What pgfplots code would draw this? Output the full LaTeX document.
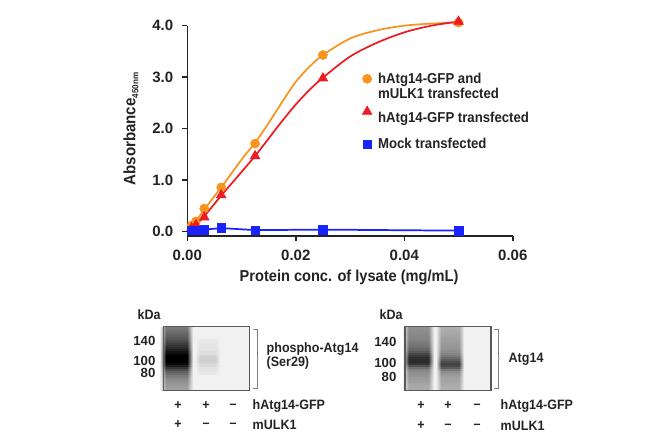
\documentclass[border=0pt]{standalone}
\usepackage{pgfplots}
\pgfplotsset{compat=1.18}
\usepackage{fontspec}
\setmainfont[FakeStretch=0.92]{Liberation Sans}
\newfontfamily\numfont{Liberation Sans}
\definecolor{cOr}{RGB}{247,148,29}
\definecolor{cRe}{RGB}{237,28,36}
\definecolor{cBl}{RGB}{25,35,255}
\definecolor{bgc}{RGB}{241,241,241}
\definecolor{txt}{RGB}{35,35,35}
\colorlet{lanec}{black}
\pgfdeclarehorizontalshading[lanec]{laneshade}{100bp}{color(0bp)=(bgc); color(25bp)=(bgc); color(34bp)=(lanec); color(66bp)=(lanec); color(75bp)=(bgc); color(100bp)=(bgc)}
\newcommand\lane[3]{\foreach \yy/\kk in {#3}{\colorlet{lanec}{black!\kk!bgc}\shade[shading=laneshade] (#1,\yy) rectangle (#2,\yy+2.3);}}
\begin{document}
\begin{tikzpicture}[font=\bfseries]
\path[use as bounding box] (0,0) rectangle (487.5pt,-328.5pt);
\begin{axis}[
 at={(140.475pt,-176.85pt)}, anchor=south west,
 scale only axis, width=244.1pt, height=157.6pt,
 xmin=0, xmax=0.06, ymin=-0.08, ymax=4.0,
 clip=false,
 axis x line*=bottom, axis y line*=left,
 axis line style={-, draw=txt, line width=1.1pt},
 tick style={draw=txt, line width=1.1pt},
 tick align=outside, major tick length=4pt,
 xtick={0,0.02,0.04,0.06}, ytick={0,1,2,3,4},
 scaled x ticks=false, scaled y ticks=false,
 /pgf/number format/assume math mode=true,
 x tick label style={yshift=-3pt, /pgf/number format/fixed, /pgf/number format/fixed zerofill, /pgf/number format/precision=2},
 y tick label style={xshift=-3pt, /pgf/number format/fixed, /pgf/number format/fixed zerofill, /pgf/number format/precision=1},
 ticklabel style={font=\numfont\bfseries\fontsize{11.25}{12}\selectfont, text=txt},
 xlabel={Protein conc. of lysate (mg/mL)},
 ylabel={Absorbance\raisebox{-2.2pt}{\fontsize{6.6}{7}\selectfont 450nm}},
 xlabel style={font=\bfseries\fontsize{11.9}{13}\selectfont, text=txt, at={(axis description cs:0.497,-0.196)}, anchor=center},
 ylabel style={font=\bfseries\fontsize{12.3}{13}\selectfont, text=txt, at={(axis description cs:-0.173,0.508)}, anchor=center},
 legend cell align=left,
 legend image code/.code={\draw[#1] plot coordinates {(0pt,0pt)}; \path (-4pt,0pt) (6pt,0pt);},
 legend style={draw=none, fill=none, at={(axis cs:0.03134,3.198)}, anchor=north west,
   font=\bfseries\fontsize{10.75}{11.25}\selectfont, text=txt, row sep=6pt},
]
\addplot[cOr, line width=1.3pt, smooth, forget plot] coordinates {
 (0,0.07) (0.00078,0.12) (0.0016,0.2) (0.003125,0.43) (0.00625,0.86) (0.01,1.4)
 (0.0125,1.73) (0.015,2.11) (0.0175,2.52) (0.02,2.91) (0.0225,3.2) (0.025,3.43)
 (0.03,3.75) (0.035,3.91) (0.04,4.0) (0.045,4.04) (0.05,4.06)};
\addplot[cRe, line width=1.3pt, smooth, forget plot] coordinates {
 (0,0.03) (0.00078,0.07) (0.0016,0.13) (0.003125,0.3) (0.00625,0.7) (0.01,1.16)
 (0.0125,1.47) (0.015,1.81) (0.0175,2.15) (0.02,2.47) (0.0225,2.75) (0.025,2.99)
 (0.03,3.4) (0.035,3.67) (0.04,3.87) (0.045,4.0) (0.05,4.08)};
\addplot[cBl, line width=1.3pt, forget plot] coordinates {
 (0,0.03) (0.00078,0.03) (0.0016,0.03) (0.003125,0.04) (0.00625,0.07) (0.0125,0.03)
 (0.025,0.04) (0.05,0.02)};
\addplot[only marks, mark=*, mark size=3.4pt, color=cOr, mark options={fill=cOr, draw=cOr}] coordinates {
 (0.00078,0.12) (0.0016,0.2) (0.003125,0.45) (0.00625,0.86) (0.0125,1.71) (0.025,3.43) (0.05,4.06)};
\addlegendentry{\begin{tabular}[t]{@{}l@{}}hAtg14-GFP and\\mULK1 transfected\end{tabular}}
\addplot[only marks, mark=triangle*, mark size=4.2pt, color=cRe, mark options={fill=cRe, draw=cRe}] coordinates {
 (0.00078,0.07) (0.0016,0.13) (0.003125,0.28) (0.00625,0.71) (0.0125,1.47) (0.025,2.98) (0.05,4.08)};
\addlegendentry{\rule{0pt}{18.3pt}hAtg14-GFP transfected}
\addplot[only marks, mark=square*, mark size=3.2pt, color=cBl, mark options={fill=cBl, draw=cBl}] coordinates {
 (0.00078,0.03) (0.0016,0.03) (0.003125,0.04) (0.00625,0.08) (0.0125,0.03) (0.025,0.04) (0.05,0.02)};
\addlegendentry{Mock transfected}
\end{axis}
\begin{scope}[x=0.75pt, y=-0.75pt, font=\bfseries\fontsize{10.2}{11}\selectfont, text=txt]
% left blot
\fill[bgc] (163.3,326.7) rectangle (249.3,390.7);
\lane{160}{193}{328/50,330/52,332/55,334/58,336/60,338/63,340/66,342/70,344/74,346/78,348/82,350/87,352/92,354/96,356/100,358/100,360/100,362/100,364/96,366/88,368/78,370/68,372/60,374/55,376/50,378/46,380/42,382/40,384/38,386/36,388/34}
\lane{195}{220}{340/4,344/5,348/6,352/8,356/12,358/14,360/15,362/14,364/10,368/6,372/4}
\draw[gray!70!black, line width=0.8pt] (163.3,326.7) rectangle (249.3,390.7);
\draw[gray, line width=0.7pt] (253,329) -- (257,329) -- (257,388) -- (253,388);
\draw[gray!50, line width=0.5pt] (257,358) -- (259,358);
\node[anchor=west] at (133,315) {kDa};
\begin{scope}[font=\numfont\bfseries\fontsize{9.9}{11}\selectfont, inner sep=1pt]
\node[anchor=east] at (157,341) {140};
\node[anchor=east] at (157,361) {100};
\node[anchor=east] at (157,373) {80};
\node[anchor=east] at (398,342) {140};
\node[anchor=east] at (398,363) {100};
\node[anchor=east] at (398,377) {80};
\end{scope}
\node[anchor=west, align=left] at (262,356) {phospho-Atg14\\(Ser29)};
\foreach \xx/\s in {178/+,206/+,233/--}{\node at (\xx,406) {\s};}
\foreach \xx/\s in {178/+,206/--,233/--}{\node at (\xx,425) {\s};}
\node[anchor=west] at (248,406) {hAtg14-GFP};
\node[anchor=west] at (248,425) {mULK1};
% right blot
\fill[bgc] (405,326.7) rectangle (491,390.7);
\lane{403}{434}{328/40,330/41,332/42,334/43,336/44,338/45,340/46,342/48,344/50,346/52,348/55,350/58,352/63,354/70,356/76,358/80,360/82,362/82,364/78,366/66,368/54,370/46,372/42,374/40,376/38,378/36,380/35,382/34,384/32,386/30,388/30}
\lane{436}{464}{328/28,330/29,332/30,334/31,336/32,338/33,340/34,342/35,344/36,346/37,348/38,350/40,352/42,354/45,356/50,358/56,360/62,362/68,364/72,366/70,368/62,370/50,372/42,374/38,376/35,378/33,380/32,382/31,384/30,386/29,388/28}
\draw[gray!70!black, line width=0.8pt] (405,326.7) rectangle (491,390.7);
\draw[gray, line width=0.7pt] (494,329) -- (498,329) -- (498,388) -- (494,388);
\draw[gray!50, line width=0.5pt] (498,358) -- (500,358);
\node[anchor=west] at (375,315) {kDa};
\node[anchor=west] at (504,359) {Atg14};
\foreach \xx/\s in {421/+,448/+,477/--}{\node at (\xx,406) {\s};}
\foreach \xx/\s in {421/+,448/--,477/--}{\node at (\xx,426) {\s};}
\node[anchor=west] at (496,406) {hAtg14-GFP};
\node[anchor=west] at (496,426) {mULK1};
\end{scope}
\end{tikzpicture}
\end{document}
